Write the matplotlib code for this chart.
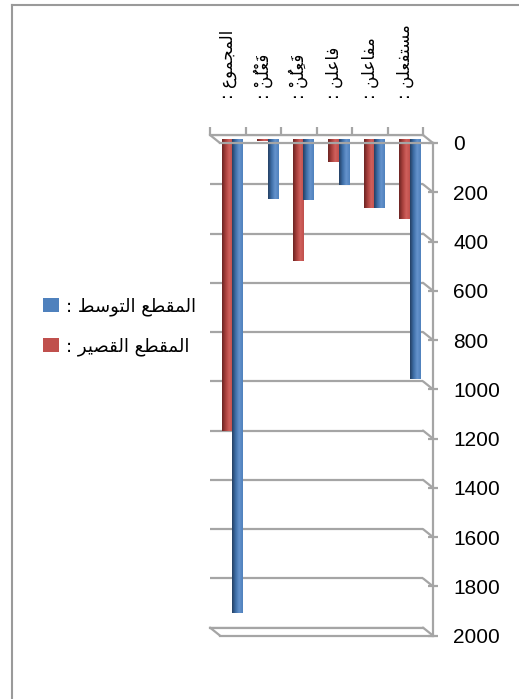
import numpy as np
import matplotlib
matplotlib.use('Agg')
import matplotlib.pyplot as plt
from matplotlib.colors import LinearSegmentedColormap
from matplotlib.patches import Patch, ConnectionPatch
from matplotlib.lines import Line2D
from matplotlib.transforms import ScaledTranslation

# data
categories = ['المجموع :', 'فَعْلُنْ :', 'فَعِلُنْ :', 'فاعلن :', 'مفاعلن :', 'مستفعلن :']
short_vals = [1185, 8, 494, 95, 281, 326]      # المقطع القصير (red)
medium_vals = [1923, 245, 248, 187, 281, 976]  # المقطع التوسط (blue)
series_names = ['المقطع التوسط :', 'المقطع القصير :']
yticks = list(range(0, 2001, 200))

# --- tiny arabic shaper (matplotlib has no bidi / joining) ---
FORMS = {
    'ا': (0xFE8D, 0xFE8E), 'و': (0xFEED, 0xFEEE), 'ر': (0xFEAD, 0xFEAE),
    'ل': (0xFEDD, 0xFEDE, 0xFEDF, 0xFEE0), 'م': (0xFEE1, 0xFEE2, 0xFEE3, 0xFEE4),
    'ج': (0xFE9D, 0xFE9E, 0xFE9F, 0xFEA0), 'ع': (0xFEC9, 0xFECA, 0xFECB, 0xFECC),
    'ف': (0xFED1, 0xFED2, 0xFED3, 0xFED4), 'ن': (0xFEE5, 0xFEE6, 0xFEE7, 0xFEE8),
    'ت': (0xFE95, 0xFE96, 0xFE97, 0xFE98), 'ق': (0xFED5, 0xFED6, 0xFED7, 0xFED8),
    'ط': (0xFEC1, 0xFEC2, 0xFEC3, 0xFEC4), 'ص': (0xFEB9, 0xFEBA, 0xFEBB, 0xFEBC),
    'ي': (0xFEF1, 0xFEF2, 0xFEF3, 0xFEF4), 'س': (0xFEB1, 0xFEB2, 0xFEB3, 0xFEB4),
}
MARKS = set('\u064B\u064C\u064D\u064E\u064F\u0650\u0651\u0652')


def shape(s):
    cl = []
    for ch in s:
        if ch in MARKS and cl:
            cl[-1][1] += ch
        else:
            cl.append([ch, ''])
    out = []
    for k, (ch, m) in enumerate(cl):
        if ch in FORMS:
            f = FORMS[ch]
            prev = cl[k - 1][0] if k > 0 else None
            nxt = cl[k + 1][0] if k + 1 < len(cl) else None
            jp = prev in FORMS and len(FORMS[prev]) == 4
            jn = nxt in FORMS and len(f) == 4
            if jp and jn:
                g = f[3]
            elif jp:
                g = f[1]
            elif jn:
                g = f[2]
            else:
                g = f[0]
            # mark first: matplotlib draws it over the glyph that follows
            out.append(m + chr(g))
        else:
            out.append(m + ch)
    return ''.join(reversed(out))


W, H = 519, 699
DPI = 100
grey = '#a5a5a5'
red = '#C0504D'
blue = '#4F81BD'

fig = plt.figure(figsize=(W / DPI, H / DPI), dpi=DPI)

# back wall
left, bottom, width, height = 210 / W, 1 - 627.6 / H, 213 / W, 492.6 / H
ax = fig.add_axes([left, bottom, width, height])
# front axis (shifted 10px right, 8px down)
ax2 = fig.add_axes([left + 10 / W, bottom - 8 / H, width, height])

for a in (ax, ax2):
    a.set_xlim(0, 6)
    a.set_ylim(2000, 0)
    a.patch.set_visible(False)
    for s in a.spines.values():
        s.set_color(grey)
        s.set_linewidth(1.6)

ax.spines['left'].set_visible(False)
ax.spines['right'].set_visible(False)
ax2.spines['left'].set_visible(False)

ax.set_yticks(yticks)
ax.tick_params(axis='y', left=False, labelleft=False)
ax.grid(axis='y', color=grey, linewidth=1.6)
ax.set_axisbelow(True)
ax.xaxis.tick_top()
ax.set_xticks(range(7))
ax.tick_params(axis='x', top=True, bottom=False, labeltop=False, labelbottom=False,
               direction='out', length=6, width=1.6, color=grey)

ax2.set_xticks([])
ax2.yaxis.tick_right()
ax2.set_yticks(yticks)
ax2.tick_params(axis='y', direction='inout', length=7, width=1.6, color=grey, pad=11,
                labelsize=15)
for lab in ax2.get_yticklabels():
    lab.set_fontfamily('Liberation Sans')

# side wall diagonals
for v in yticks:
    fig.add_artist(ConnectionPatch((6, v), (6, v), coordsA=ax.transData, coordsB=ax2.transData,
                                   color=grey, lw=1.6))
for v in (0, 2000):
    fig.add_artist(ConnectionPatch((0, v), (0, v), coordsA=ax.transData, coordsB=ax2.transData,
                                   color=grey, lw=1.6))

# bars, half way into the depth
mid = ax.transData + ScaledTranslation(5 / DPI, -4 / DPI, fig.dpi_scale_trans)
x = np.arange(len(categories))
bw = 0.29
cm_red = LinearSegmentedColormap.from_list('r', ['#6b2422', '#a8403d', '#d0605c', '#c0504d'])
cm_blue = LinearSegmentedColormap.from_list('b', ['#243f63', '#3f6fa8', '#6593cc', '#4f81bd'])
grad = np.linspace(0, 1, 64)[np.newaxis, :]
for vals, off, col, cm in [(short_vals, 0.19, red, cm_red), (medium_vals, 0.48, blue, cm_blue)]:
    bars = ax.bar(x + off, vals, bw, align='edge', color=col, transform=mid, zorder=3)
    for p in bars:
        x0, y0, w, h = p.get_x(), p.get_y(), p.get_width(), p.get_height()
        im = ax.imshow(grad, cmap=cm, extent=(x0, x0 + w, y0, y0 + h), aspect='auto',
                       transform=mid, zorder=4, interpolation='bilinear')
        im.set_clip_path(p)

ax.set_xlim(0, 6)
ax.set_ylim(2000, 0)

# category labels
for i, c in enumerate(categories):
    ax.annotate(shape(c), xy=(i + 0.5, 0), xycoords='data', xytext=(0, 26),
                textcoords='offset points', rotation=90, ha='center', va='bottom',
                fontsize=12, family='DejaVu Sans', annotation_clip=False)

# legend
handles = [Patch(facecolor=blue), Patch(facecolor=red)]
fig.legend(handles, [shape(s) for s in series_names], loc='upper left',
           bbox_to_anchor=(27 / W, 1 - 281 / H), frameon=False, fontsize=13,
           handlelength=0.85, handleheight=0.85, handletextpad=0.4, labelspacing=1.2)

# page frame
fig.add_artist(Line2D([12 / W, 1], [1 - 5 / H, 1 - 5 / H], transform=fig.transFigure,
                      color='#9a9a9a', lw=1.5))
fig.add_artist(Line2D([12 / W, 12 / W], [0, 1 - 5 / H], transform=fig.transFigure,
                      color='#9a9a9a', lw=1.5))

fig.savefig('out.png', dpi=DPI)
